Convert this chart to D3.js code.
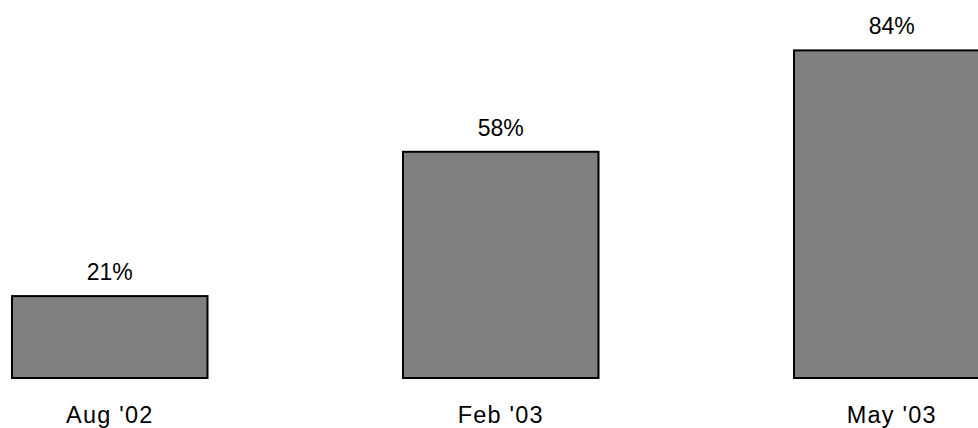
<!DOCTYPE html>
<html>
<head>
<meta charset="utf-8">
<script src="https://cdn.jsdelivr.net/npm/d3@7"></script>
<style>
  html, body { margin: 0; padding: 0; background: #fff; overflow: hidden; }
  text { font-family: "Liberation Sans", Arial, sans-serif; fill: #000; }
</style>
</head>
<body>
<svg id="chart" width="978" height="428"></svg>
<script>
// Survey periods and the share reported in each
const periods = ["Aug '02", "Feb '03", "May '03"];
const shares = [21, 58, 84];
const valueLabels = ["21%", "58%", "84%"];

const svg = d3.select("#chart");
const baseline = 378;

const x = d3.scaleBand()
  .domain(periods)
  .range([-85.75, 1087.25])
  .paddingInner(0.5)
  .paddingOuter(0.25);

const y = d3.scaleLinear()
  .domain([0, 100])
  .range([baseline, baseline - 390]);

const bars = svg.append("g");
bars.selectAll("rect")
  .data(periods)
  .join("rect")
  .attr("x", d => x(d))
  .attr("y", (d, i) => y(shares[i]))
  .attr("width", x.bandwidth())
  .attr("height", (d, i) => baseline - y(shares[i]))
  .attr("fill", "#808080")
  .attr("stroke", "#000")
  .attr("stroke-width", 2);

svg.append("g").selectAll("text")
  .data(periods)
  .join("text")
  .attr("x", d => x(d) + x.bandwidth() / 2)
  .attr("y", (d, i) => y(shares[i]) - 16)
  .attr("text-anchor", "middle")
  .attr("font-size", 23)
  .text((d, i) => valueLabels[i]);

// Category axis labels under the bars
const axis = d3.axisBottom(x).tickSize(0).tickPadding(0);
const axisG = svg.append("g")
  .attr("transform", `translate(0,${baseline})`)
  .call(axis);
axisG.select(".domain").remove();
axisG.selectAll("text")
  .attr("dy", null)
  .attr("y", 45)
  .attr("font-size", 23.5)
  .attr("letter-spacing", 1.2)
  .attr("font-family", "Liberation Sans, Arial, sans-serif")
  .attr("fill", "#000");
</script>
</body>
</html>
